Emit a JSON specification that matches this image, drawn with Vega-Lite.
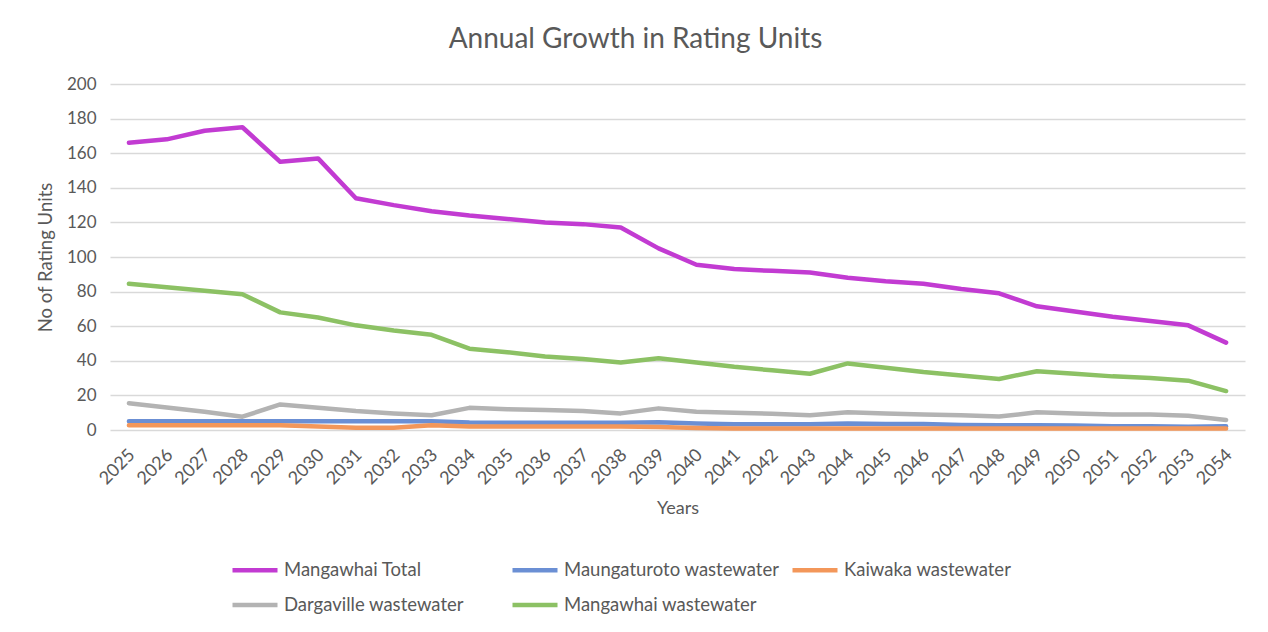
{
  "$schema": "https://vega.github.io/schema/vega-lite/v6.json",
  "width": 1135,
  "height": 346,
  "autosize": {"type": "none"},
  "padding": {"left": 110, "top": 84, "right": 23, "bottom": 202},
  "background": "white",
  "config": {
    "font": "Lato",
    "view": {"stroke": null}
  },
  "title": {
    "text": "Annual Growth in Rating Units",
    "fontSize": 28,
    "fontWeight": "normal",
    "color": "#595959",
    "anchor": "middle",
    "dx": -42,
    "offset": 21
  },
  "data": {
    "values": [
      {"Year": "2025", "Mangawhai Total": 166, "Maungaturoto wastewater": 5, "Kaiwaka wastewater": 2.7, "Dargaville wastewater": 15.5, "Mangawhai wastewater": 84.5},
      {"Year": "2026", "Mangawhai Total": 168, "Maungaturoto wastewater": 5, "Kaiwaka wastewater": 2.7, "Dargaville wastewater": 13, "Mangawhai wastewater": 82.5},
      {"Year": "2027", "Mangawhai Total": 173, "Maungaturoto wastewater": 5, "Kaiwaka wastewater": 2.7, "Dargaville wastewater": 10.5, "Mangawhai wastewater": 80.5},
      {"Year": "2028", "Mangawhai Total": 175, "Maungaturoto wastewater": 5, "Kaiwaka wastewater": 2.7, "Dargaville wastewater": 7.7, "Mangawhai wastewater": 78.5},
      {"Year": "2029", "Mangawhai Total": 155, "Maungaturoto wastewater": 5, "Kaiwaka wastewater": 2.7, "Dargaville wastewater": 14.8, "Mangawhai wastewater": 68},
      {"Year": "2030", "Mangawhai Total": 157, "Maungaturoto wastewater": 5, "Kaiwaka wastewater": 2, "Dargaville wastewater": 12.9, "Mangawhai wastewater": 65},
      {"Year": "2031", "Mangawhai Total": 134, "Maungaturoto wastewater": 5, "Kaiwaka wastewater": 1.3, "Dargaville wastewater": 11, "Mangawhai wastewater": 60.5},
      {"Year": "2032", "Mangawhai Total": 130, "Maungaturoto wastewater": 5, "Kaiwaka wastewater": 1.3, "Dargaville wastewater": 9.6, "Mangawhai wastewater": 57.5},
      {"Year": "2033", "Mangawhai Total": 126.5, "Maungaturoto wastewater": 5, "Kaiwaka wastewater": 2.8, "Dargaville wastewater": 8.5, "Mangawhai wastewater": 55},
      {"Year": "2034", "Mangawhai Total": 124, "Maungaturoto wastewater": 4.3, "Kaiwaka wastewater": 2, "Dargaville wastewater": 12.8, "Mangawhai wastewater": 47},
      {"Year": "2035", "Mangawhai Total": 122, "Maungaturoto wastewater": 4.2, "Kaiwaka wastewater": 2, "Dargaville wastewater": 12, "Mangawhai wastewater": 45},
      {"Year": "2036", "Mangawhai Total": 120, "Maungaturoto wastewater": 4.2, "Kaiwaka wastewater": 2, "Dargaville wastewater": 11.5, "Mangawhai wastewater": 42.5},
      {"Year": "2037", "Mangawhai Total": 119, "Maungaturoto wastewater": 4.2, "Kaiwaka wastewater": 2, "Dargaville wastewater": 11, "Mangawhai wastewater": 41},
      {"Year": "2038", "Mangawhai Total": 117, "Maungaturoto wastewater": 4.2, "Kaiwaka wastewater": 2, "Dargaville wastewater": 9.6, "Mangawhai wastewater": 39},
      {"Year": "2039", "Mangawhai Total": 105, "Maungaturoto wastewater": 4.5, "Kaiwaka wastewater": 1.7, "Dargaville wastewater": 12.5, "Mangawhai wastewater": 41.5},
      {"Year": "2040", "Mangawhai Total": 95.5, "Maungaturoto wastewater": 3.8, "Kaiwaka wastewater": 1.2, "Dargaville wastewater": 10.6, "Mangawhai wastewater": 39},
      {"Year": "2041", "Mangawhai Total": 93, "Maungaturoto wastewater": 3.3, "Kaiwaka wastewater": 0.8, "Dargaville wastewater": 10, "Mangawhai wastewater": 36.5},
      {"Year": "2042", "Mangawhai Total": 92, "Maungaturoto wastewater": 3.3, "Kaiwaka wastewater": 0.8, "Dargaville wastewater": 9.4, "Mangawhai wastewater": 34.5},
      {"Year": "2043", "Mangawhai Total": 91, "Maungaturoto wastewater": 3.3, "Kaiwaka wastewater": 0.8, "Dargaville wastewater": 8.5, "Mangawhai wastewater": 32.5},
      {"Year": "2044", "Mangawhai Total": 88, "Maungaturoto wastewater": 3.8, "Kaiwaka wastewater": 0.8, "Dargaville wastewater": 10.2, "Mangawhai wastewater": 38.5},
      {"Year": "2045", "Mangawhai Total": 86, "Maungaturoto wastewater": 3.5, "Kaiwaka wastewater": 0.8, "Dargaville wastewater": 9.6, "Mangawhai wastewater": 36},
      {"Year": "2046", "Mangawhai Total": 84.5, "Maungaturoto wastewater": 3.4, "Kaiwaka wastewater": 0.8, "Dargaville wastewater": 9, "Mangawhai wastewater": 33.5},
      {"Year": "2047", "Mangawhai Total": 81.5, "Maungaturoto wastewater": 2.9, "Kaiwaka wastewater": 0.8, "Dargaville wastewater": 8.5, "Mangawhai wastewater": 31.5},
      {"Year": "2048", "Mangawhai Total": 79, "Maungaturoto wastewater": 2.7, "Kaiwaka wastewater": 0.8, "Dargaville wastewater": 7.8, "Mangawhai wastewater": 29.5},
      {"Year": "2049", "Mangawhai Total": 71.5, "Maungaturoto wastewater": 2.7, "Kaiwaka wastewater": 0.8, "Dargaville wastewater": 10.2, "Mangawhai wastewater": 34},
      {"Year": "2050", "Mangawhai Total": 68.5, "Maungaturoto wastewater": 2.6, "Kaiwaka wastewater": 0.8, "Dargaville wastewater": 9.6, "Mangawhai wastewater": 32.5},
      {"Year": "2051", "Mangawhai Total": 65.5, "Maungaturoto wastewater": 2.1, "Kaiwaka wastewater": 0.8, "Dargaville wastewater": 9, "Mangawhai wastewater": 31},
      {"Year": "2052", "Mangawhai Total": 63, "Maungaturoto wastewater": 2.1, "Kaiwaka wastewater": 0.8, "Dargaville wastewater": 9, "Mangawhai wastewater": 30},
      {"Year": "2053", "Mangawhai Total": 60.5, "Maungaturoto wastewater": 1.9, "Kaiwaka wastewater": 0.8, "Dargaville wastewater": 8.3, "Mangawhai wastewater": 28.5},
      {"Year": "2054", "Mangawhai Total": 50.5, "Maungaturoto wastewater": 2.1, "Kaiwaka wastewater": 0.8, "Dargaville wastewater": 5.8, "Mangawhai wastewater": 22.5}
    ]
  },
  "transform": [
    {"fold": ["Mangawhai Total", "Maungaturoto wastewater", "Kaiwaka wastewater", "Dargaville wastewater", "Mangawhai wastewater"], "as": ["Series", "Units"]}
  ],
  "mark": {"type": "line", "strokeWidth": 4.5, "strokeCap": "round", "strokeJoin": "round"},
  "encoding": {
    "x": {
      "field": "Year",
      "type": "ordinal",
      "scale": {"padding": 0.5},
      "axis": {
        "title": "Years",
        "titleFontSize": 18,
        "titleFontWeight": "normal",
        "titleColor": "#595959",
        "titlePadding": 12,
        "labelAngle": -45,
        "labelAlign": "right",
        "labelBaseline": "middle",
        "labelPadding": 22,
        "labelOffset": 3,
        "labelFontSize": 18,
        "labelColor": "#595959",
        "ticks": false,
        "domain": false,
        "grid": false
      }
    },
    "y": {
      "field": "Units",
      "type": "quantitative",
      "scale": {"domain": [0, 200], "nice": false},
      "axis": {
        "title": "No of Rating Units",
        "titleFontSize": 18.5,
        "titleFontWeight": "normal",
        "titleColor": "#595959",
        "titlePadding": 11,
        "tickCount": 10,
        "labelFontSize": 17,
        "labelColor": "#595959",
        "labelPadding": 14,
        "ticks": false,
        "domain": false,
        "gridColor": "#d9d9d9",
        "gridWidth": 1.3
      }
    },
    "color": {
      "field": "Series",
      "type": "nominal",
      "scale": {
        "domain": ["Mangawhai Total", "Maungaturoto wastewater", "Kaiwaka wastewater", "Dargaville wastewater", "Mangawhai wastewater"],
        "range": ["#C23BD2", "#6B8FD4", "#F3975A", "#B3B3B3", "#8CC164"]
      },
      "legend": {
        "title": null,
        "orient": "none",
        "legendX": 120,
        "legendY": 461,
        "direction": "horizontal",
        "columns": 3,
        "gridAlign": "all",
        "columnPadding": 3,
        "rowPadding": -9,
        "symbolType": "stroke",
        "symbolSize": 2025,
        "symbolStrokeWidth": 4.5,
        "labelFontSize": 18.5,
        "labelColor": "#595959",
        "labelOffset": 4,
        "labelLimit": 400
      }
    }
  }
}
